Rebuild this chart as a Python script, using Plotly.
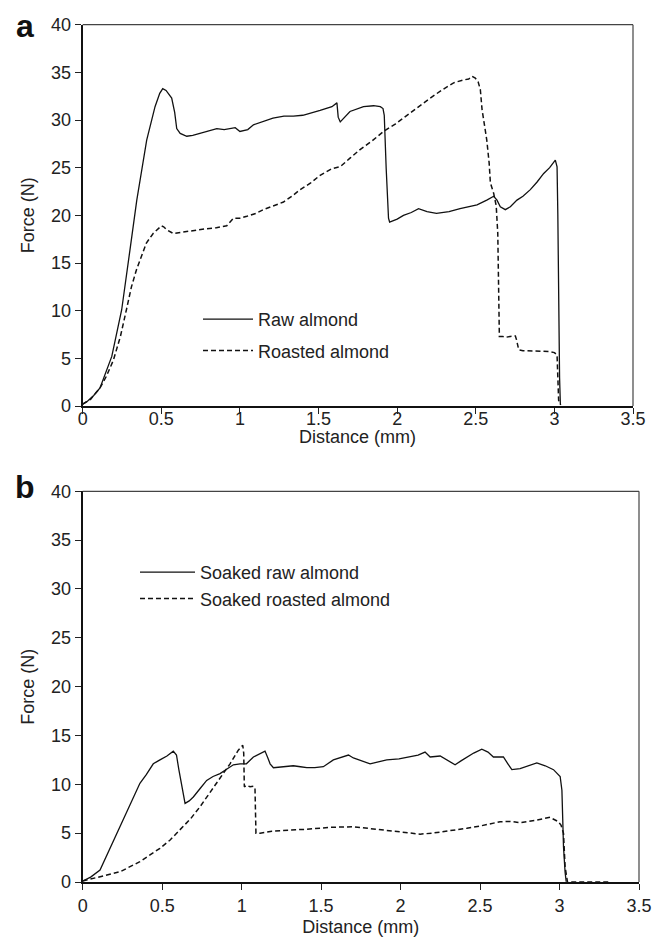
import plotly.graph_objects as go

# ---------------- Data: panel a ----------------
raw_x = [0, 0.03, 0.07, 0.11, 0.185, 0.248, 0.30, 0.344, 0.407, 0.46, 0.49, 0.509, 0.53, 0.566, 0.585,
         0.598, 0.62, 0.662, 0.70, 0.746, 0.80, 0.853, 0.90, 0.937, 0.97, 1.0, 1.05, 1.086, 1.15, 1.21,
         1.28, 1.34, 1.40, 1.447, 1.51, 1.585, 1.617, 1.625, 1.638, 1.70, 1.786, 1.85, 1.893, 1.91,
         1.918, 1.93, 1.945, 1.952, 2.0, 2.04, 2.09, 2.136, 2.19, 2.25, 2.33, 2.40, 2.46, 2.508, 2.57,
         2.614, 2.635, 2.656, 2.688, 2.72, 2.762, 2.80, 2.847, 2.89, 2.932, 2.97, 3.006, 3.017, 3.022,
         3.027, 3.033, 3.038]
raw_y = [0.2, 0.5, 1.1, 1.9, 5.2, 10.1, 16.3, 21.6, 27.9, 31.4, 32.8, 33.3, 33.1, 32.3, 30.8,
         29.1, 28.6, 28.3, 28.4, 28.6, 28.8, 29.1, 29.0, 29.1, 29.2, 28.8, 29.0, 29.5, 29.9, 30.2,
         30.4, 30.4, 30.5, 30.7, 31.0, 31.4, 31.8, 30.3, 29.8, 30.9, 31.4, 31.5, 31.4, 31.2,
         30.5, 25.0, 19.7, 19.3, 19.6, 20.0, 20.3, 20.7, 20.4, 20.2, 20.4, 20.7, 20.9, 21.1, 21.6,
         22.0, 21.6, 20.9, 20.6, 20.9, 21.6, 22.0, 22.7, 23.5, 24.4, 25.0, 25.8, 25.1, 20.0,
         10.0, 3.0, 0.2]

roast_x = [0, 0.05, 0.11, 0.15, 0.195, 0.24, 0.278, 0.31, 0.342, 0.375, 0.405, 0.448, 0.48, 0.501,
           0.515, 0.533, 0.576, 0.62, 0.662, 0.72, 0.789, 0.85, 0.916, 0.959, 1.0, 1.044, 1.10, 1.15,
           1.21, 1.277, 1.33, 1.383, 1.45, 1.51, 1.585, 1.638, 1.70, 1.764, 1.84, 1.913, 1.99, 2.062,
           2.14, 2.21, 2.29, 2.359, 2.42, 2.455, 2.476, 2.497, 2.515, 2.529, 2.54, 2.555, 2.57, 2.585,
           2.593, 2.614, 2.63, 2.64, 2.646, 2.65, 2.67, 2.688, 2.72, 2.752, 2.76, 2.773, 2.80, 2.868,
           2.92, 2.974, 3.00, 3.017, 3.022, 3.027, 3.04]
roast_y = [0.2, 0.7, 1.9, 3.1, 4.8, 7.3, 10.1, 12.5, 14.3, 15.8, 17.1, 18.1, 18.6, 18.9,
           18.8, 18.5, 18.1, 18.2, 18.3, 18.5, 18.6, 18.7, 18.9, 19.7, 19.7, 19.9, 20.2, 20.6,
           21.0, 21.4, 22.0, 22.7, 23.4, 24.2, 24.9, 25.1, 26.0, 26.9, 27.8, 28.8, 29.6, 30.5,
           31.4, 32.3, 33.2, 33.9, 34.2, 34.3, 34.6, 34.4, 34.0, 33.2, 31.1, 29.5, 27.9, 25.5,
           23.4, 22.3, 21.0, 18.1, 11.1, 7.3, 7.3, 7.2, 7.3, 7.35, 6.9, 5.9, 5.8, 5.8,
           5.75, 5.7, 5.6, 5.35, 3.0, 0.6, 0.1]

# ---------------- Data: panel b ----------------
sraw_x = [0, 0.05, 0.109, 0.16, 0.214, 0.29, 0.36, 0.40, 0.444, 0.486, 0.53, 0.57, 0.59, 0.605, 0.623,
          0.644, 0.67, 0.696, 0.74, 0.78, 0.82, 0.864, 0.91, 0.948, 0.99, 1.03, 1.074, 1.11, 1.147,
          1.165, 1.179, 1.2, 1.26, 1.325, 1.37, 1.41, 1.46, 1.514, 1.577, 1.62, 1.672, 1.703, 1.75,
          1.808, 1.86, 1.913, 1.99, 2.06, 2.11, 2.154, 2.186, 2.249, 2.29, 2.343, 2.38, 2.417, 2.46,
          2.511, 2.55, 2.584, 2.647, 2.675, 2.7, 2.752, 2.80, 2.857, 2.91, 2.962, 3.004, 3.015, 3.02,
          3.025, 3.035, 3.042]
sraw_y = [0.1, 0.5, 1.23, 3.0, 4.98, 7.6, 10.1, 11.0, 12.1, 12.5, 12.9, 13.4, 13.0, 11.5, 9.75,
          8.05, 8.3, 8.7, 9.6, 10.4, 10.8, 11.1, 11.6, 12.0, 12.1, 12.1, 12.8, 13.1, 13.4,
          12.7, 12.1, 11.7, 11.8, 11.9, 11.8, 11.7, 11.7, 11.8, 12.5, 12.7, 13.0, 12.7, 12.4,
          12.1, 12.3, 12.5, 12.6, 12.8, 13.0, 13.3, 12.8, 12.9, 12.5, 12.0, 12.4, 12.8, 13.2,
          13.6, 13.3, 12.8, 12.8, 12.1, 11.5, 11.6, 11.9, 12.2, 11.9, 11.5, 10.8, 9.4, 6.5,
          3.6, 1.0, 0.03]

sroast_x = [0, 0.109, 0.235, 0.36, 0.486, 0.55, 0.612, 0.68, 0.738, 0.79, 0.843, 0.89, 0.927, 0.979,
            1.007, 1.013, 1.017, 1.03, 1.053, 1.075, 1.084, 1.09, 1.116, 1.19, 1.262, 1.34, 1.41,
            1.493, 1.567, 1.703, 1.80, 1.913, 2.02, 2.123, 2.20, 2.269, 2.34, 2.417, 2.5, 2.56,
            2.626, 2.69, 2.752, 2.857, 2.94, 2.993, 3.01, 3.025, 3.035, 3.05, 3.15, 3.31]
sroast_y = [0.1, 0.54, 1.05, 2.08, 3.45, 4.3, 5.3, 6.5, 7.7, 8.9, 10.1, 11.2, 12.1, 13.5,
            14.0, 13.2, 9.75, 9.9, 9.75, 9.8, 9.6, 5.0, 5.0, 5.2, 5.3, 5.35, 5.4,
            5.5, 5.6, 5.66, 5.5, 5.3, 5.1, 4.9, 5.0, 5.15, 5.3, 5.5, 5.73, 5.95,
            6.17, 6.2, 6.07, 6.35, 6.62, 6.17, 5.8, 4.98, 1.57, 0, 0, 0]

x_ticks = [0, 0.5, 1, 1.5, 2, 2.5, 3, 3.5]
x_tick_labels = ["0", "0.5", "1", "1.5", "2", "2.5", "3", "3.5"]
y_ticks = [0, 5, 10, 15, 20, 25, 30, 35, 40]

FONT = "Liberation Sans, Arial, Helvetica, sans-serif"
INK = "#111111"
DASH = "5px,3px"
FS = 18

# The page body adds an 8px offset; the figure is sized to fill the rest of the window.
OFF = 8
W, H = 664 - OFF, 944 - OFF

def fx(px):  # screen x px -> paper fraction
    return (px - OFF) / W

def fy(py):  # screen y px -> paper fraction
    return 1 - (py - OFF) / H

fig = go.Figure()

fig.add_trace(go.Scatter(x=raw_x, y=raw_y, mode="lines", name="Raw almond",
                         line=dict(color=INK, width=1.3), xaxis="x", yaxis="y",
                         legend="legend", legendgroup="a1"))
fig.add_trace(go.Scatter(x=roast_x, y=roast_y, mode="lines", name="Roasted almond",
                         line=dict(color=INK, width=1.5, dash=DASH), xaxis="x", yaxis="y",
                         legend="legend", legendgroup="a2"))
fig.add_trace(go.Scatter(x=sraw_x, y=sraw_y, mode="lines", name="Soaked raw almond",
                         line=dict(color=INK, width=1.3), xaxis="x2", yaxis="y2",
                         legend="legend2", legendgroup="b1"))
fig.add_trace(go.Scatter(x=sroast_x, y=sroast_y, mode="lines", name="Soaked roasted almond",
                         line=dict(color=INK, width=1.5, dash=DASH), xaxis="x2", yaxis="y2",
                         legend="legend2", legendgroup="b2"))

tickfont = dict(family=FONT, size=FS, color="#222")
titlefont = dict(family=FONT, size=FS, color="#222")

def xaxis(domain, anchor, labelstandoff, title):
    d = dict(domain=domain, anchor=anchor, range=[0, 3.5], tickvals=x_ticks,
             ticktext=x_tick_labels, ticks="outside", ticklen=6, tickwidth=1.3,
             tickcolor="#222", showline=True, linecolor="#111", linewidth=2,
             showgrid=False, zeroline=False, tickfont=tickfont, automargin=False,
             ticklabelstandoff=labelstandoff)
    if title:
        d["title"] = dict(text="Distance (mm)", font=titlefont, standoff=6)
    return d

def yaxis(domain, anchor):
    return dict(domain=domain, anchor=anchor, range=[0, 40], tickvals=y_ticks,
                ticks="outside", ticklen=6, tickwidth=1.3, tickcolor="#222",
                showline=True, linecolor="#111", linewidth=2, showgrid=False,
                zeroline=False, tickfont=tickfont, automargin=False,
                title=dict(text="Force (N)", font=titlefont, standoff=12))

xa_dom = [fx(82.7), fx(633)]
ya_dom = [fy(406), fy(24.7)]
xb_dom = [fx(82.7), fx(639)]
yb_dom = [fy(882), fy(491.3)]

legfont = dict(family=FONT, size=FS, color="#222")

border = dict(color="#444", width=1.2)

fig.update_layout(
    width=W, height=H,
    margin=dict(l=0, r=0, t=0, b=0, autoexpand=False),
    paper_bgcolor="white", plot_bgcolor="white",
    showlegend=True,
    xaxis=xaxis(xa_dom, "y", -11, False),
    yaxis=yaxis(ya_dom, "x"),
    xaxis2=xaxis(xb_dom, "y2", 0, True),
    yaxis2=yaxis(yb_dom, "x2"),
    legend=dict(x=fx(198), y=fy(301), xanchor="left", yanchor="top",
                bgcolor="rgba(0,0,0,0)", font=legfont, itemwidth=50,
                tracegroupgap=5, itemclick=False),
    legend2=dict(x=fx(135), y=fy(554), xanchor="left", yanchor="top",
                 bgcolor="rgba(0,0,0,0)", font=legfont, itemwidth=55,
                 tracegroupgap=0, itemclick=False),
    shapes=[
        dict(type="line", xref="x domain", yref="y domain", x0=0, x1=1, y0=1, y1=1, line=border),
        dict(type="line", xref="x domain", yref="y domain", x0=1, x1=1, y0=0, y1=1, line=border),
        dict(type="line", xref="x2 domain", yref="y2 domain", x0=0, x1=1, y0=1, y1=1, line=border),
        dict(type="line", xref="x2 domain", yref="y2 domain", x0=1, x1=1, y0=0, y1=1, line=border),
    ],
    annotations=[
        dict(text="<b>a</b>", x=fx(25), y=1, xref="paper", yref="paper",
             xanchor="center", yanchor="top", showarrow=False, yshift=2,
             font=dict(family=FONT, size=32, color="#111")),
        dict(text="<b>b</b>", x=fx(25), y=fy(487), xref="paper", yref="paper",
             xanchor="center", yanchor="middle", showarrow=False,
             font=dict(family=FONT, size=32, color="#111")),
        dict(text="Distance (mm)", x=(xa_dom[0] + xa_dom[1]) / 2, y=fy(437),
             xref="paper", yref="paper", xanchor="center", yanchor="middle",
             showarrow=False, font=titlefont),
    ],
)

fig.write_html("out.html")
